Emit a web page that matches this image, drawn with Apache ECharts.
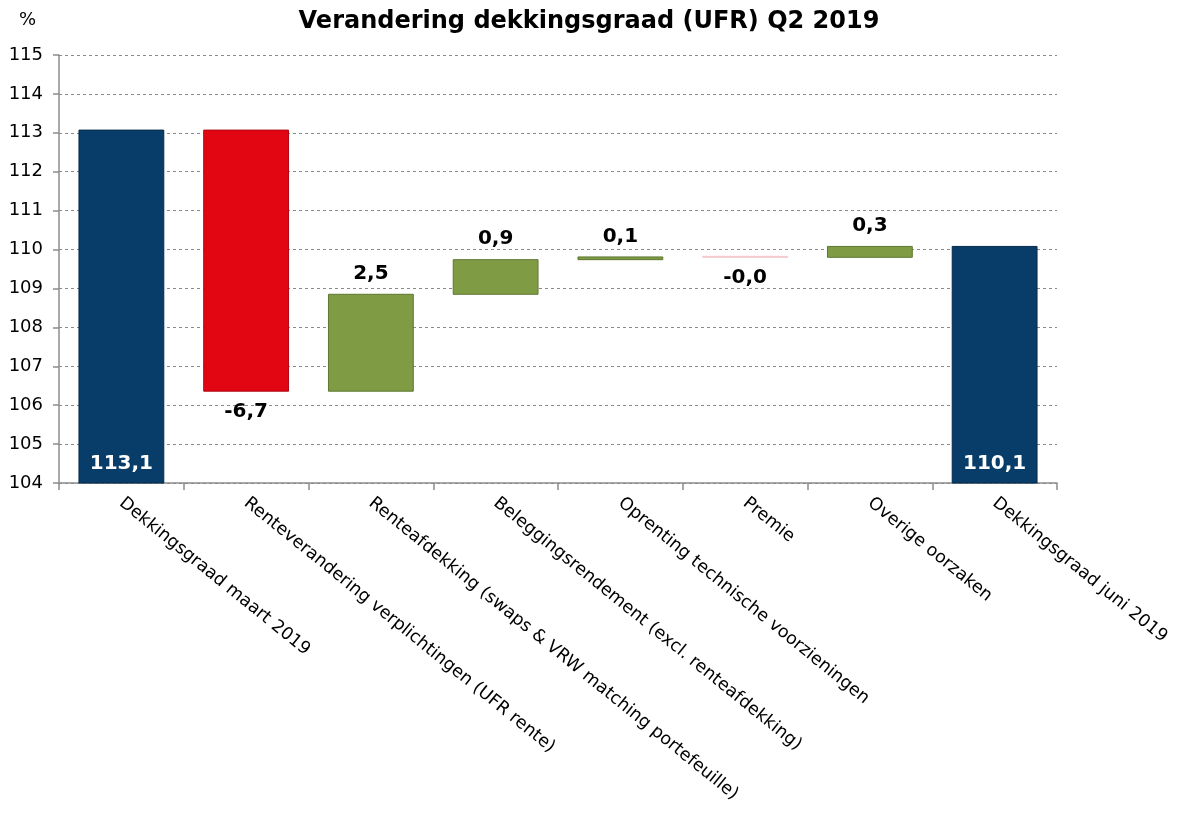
<!DOCTYPE html>
<html>
<head>
<meta charset="utf-8">
<script src="https://cdn.jsdelivr.net/npm/echarts@6/dist/echarts.min.js"></script>
<style>
html,body{margin:0;padding:0;background:#fff;}
#chart{width:1178px;height:821px;}
</style>
</head>
<body>
<div id="chart"></div>
<script>
// ---- data ----
const categories = [
  'Dekkingsgraad maart 2019',
  'Renteverandering verplichtingen (UFR rente)',
  'Renteafdekking (swaps & VRW matching portefeuille)',
  'Beleggingsrendement (excl. renteafdekking)',
  'Oprenting technische voorzieningen',
  'Premie',
  'Overige oorzaken',
  'Dekkingsgraad juni 2019'
];
const startValue = 113.07;
const changes = [-6.71, 2.49, 0.89, 0.07, -0.01, 0.28];
const endValue = 110.08;
const yTicks = {min: 104, max: 115, interval: 1};

// ---- build waterfall ----
const colors = {total: '#083D69', neg: '#E20613', pos: '#7F9C45', tinyNeg: '#F3C9CD'};
const fmt = v => (v < 0 ? '-' : '') + Math.abs(v).toFixed(1).replace('.', ',');
const baseData = [];
const deltaData = [];
const lbl = {fontFamily: 'DejaVu Sans', fontWeight: 'bold', fontSize: 20, color: '#000'};

baseData.push(yTicks.min);
deltaData.push({value: startValue - yTicks.min, real: startValue,
  itemStyle: {color: colors.total, borderColor: '#052a49'},
  label: Object.assign({}, lbl, {show: true, position: 'insideBottom', color: '#fff', distance: 10})});
let run = startValue;
changes.forEach(c => {
  const next = run + c;
  baseData.push(Math.min(run, next));
  const isNeg = c < 0;
  const tiny = Math.abs(c) < 0.05;
  const col = isNeg ? (tiny ? colors.tinyNeg : colors.neg) : colors.pos;
  deltaData.push({value: Math.abs(c), real: c,
    itemStyle: {color: col, borderColor: isNeg ? (tiny ? colors.tinyNeg : '#b0050f') : '#5e7630'},
    label: Object.assign({}, lbl, {show: true, position: isNeg ? 'bottom' : 'top', distance: 10})});
  run = next;
});
baseData.push(yTicks.min);
deltaData.push({value: endValue - yTicks.min, real: endValue,
  itemStyle: {color: colors.total, borderColor: '#052a49'},
  label: Object.assign({}, lbl, {show: true, position: 'insideBottom', color: '#fff', distance: 10})});

const chart = echarts.init(document.getElementById('chart'));
chart.setOption({
  animation: false,
  backgroundColor: '#fff',
  title: {
    text: 'Verandering dekkingsgraad (UFR) Q2 2019',
    left: 'center', top: 5,
    textStyle: {fontFamily: 'DejaVu Sans', fontWeight: 'bold', fontSize: 24, color: '#000'}
  },
  graphic: [{type: 'text', left: 19, top: 11,
    style: {text: '%', font: '18px "DejaVu Sans"', fill: '#000'}}],
  grid: {left: 59, right: 121, top: 55, bottom: 338, containLabel: false},
  xAxis: {
    type: 'category', data: categories,
    axisLine: {lineStyle: {color: '#8c8c8c', width: 1.5}},
    axisTick: {show: true, length: 7, lineStyle: {color: '#8c8c8c', width: 1.5}},
    axisLabel: {rotate: -39, interval: 0, margin: 18, fontFamily: 'DejaVu Sans', fontSize: 17.5, color: '#000'}
  },
  yAxis: {
    type: 'value', min: yTicks.min, max: yTicks.max, interval: yTicks.interval,
    axisLine: {show: true, lineStyle: {color: '#8c8c8c', width: 1.5}},
    axisTick: {show: true, length: 6, lineStyle: {color: '#8c8c8c', width: 1.5}},
    axisLabel: {margin: 16, fontFamily: 'DejaVu Sans', fontSize: 18, color: '#000'},
    splitLine: {show: true, lineStyle: {color: '#8a8a8a', type: [3, 3], width: 1}}
  },
  series: [
    {type: 'bar', stack: 'wf', data: baseData, barCategoryGap: '32%',
     itemStyle: {color: 'transparent'}, silent: true},
    {type: 'bar', stack: 'wf', data: deltaData, barMinHeight: 1,
     label: {show: true, formatter: p => fmt(p.data.real)}}
  ]
});
</script>
</body>
</html>
